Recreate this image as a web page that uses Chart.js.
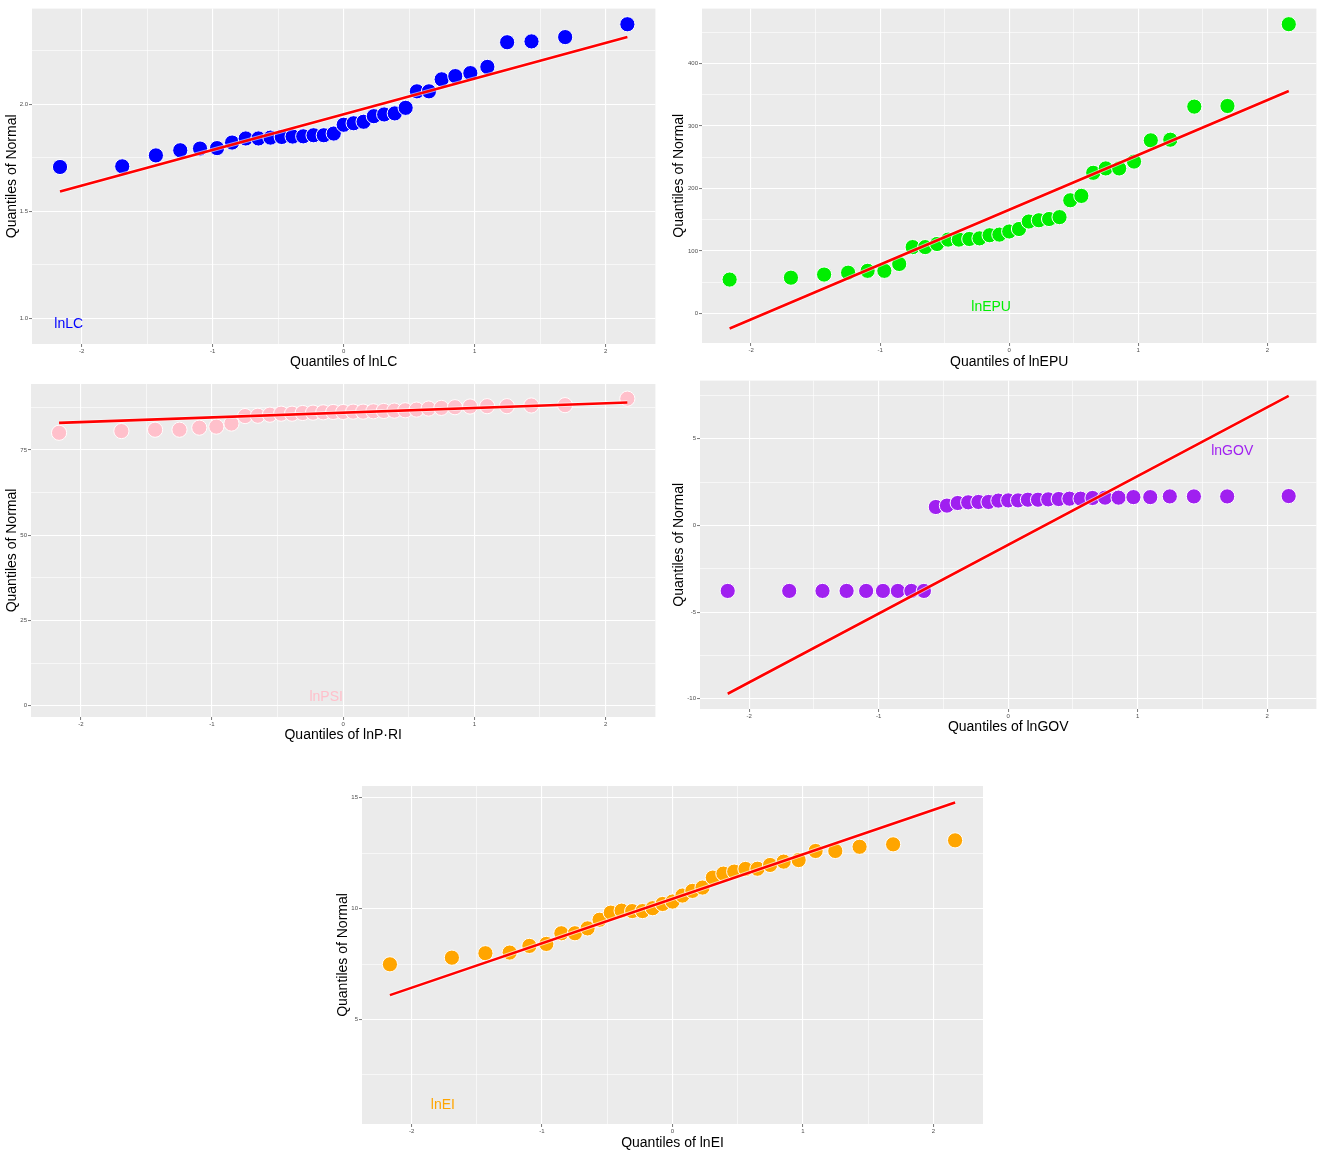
<!DOCTYPE html>
<html>
<head>
<meta charset="utf-8">
<title>Q-Q plots</title>
<script src="https://cdn.jsdelivr.net/npm/chart.js@4.4.1/dist/chart.umd.min.js"></script>
<style>
  html, body { margin: 0; padding: 0; background: #fff; }
  body { width: 1325px; height: 1153px; position: relative; overflow: hidden; }
  canvas { position: absolute; }
</style>
</head>
<body>
<canvas id="lc"></canvas>
<canvas id="epu"></canvas>
<canvas id="psi"></canvas>
<canvas id="gov"></canvas>
<canvas id="ei"></canvas>
<script>
// theoretical normal quantiles (x of every panel, 33 obs)
const theoreticalQuantiles = [-2.166, -1.691, -1.434, -1.248, -1.097, -0.967, -0.852, -0.748, -0.651, -0.559,
  -0.473, -0.390, -0.309, -0.230, -0.152, -0.076, 0, 0.076, 0.152, 0.230, 0.309, 0.390, 0.473, 0.559,
  0.651, 0.748, 0.852, 0.967, 1.097, 1.248, 1.434, 1.691, 2.166];

// sample quantiles
const lnLC = [1.707, 1.710, 1.761, 1.785, 1.793, 1.795, 1.821, 1.840, 1.840, 1.844, 1.847, 1.849, 1.850,
  1.855, 1.855, 1.863, 1.904, 1.911, 1.918, 1.944, 1.952, 1.957, 1.983, 2.060, 2.060, 2.116, 2.131,
  2.145, 2.174, 2.289, 2.293, 2.313, 2.373];
const lnEPU = [54, 57, 62, 65, 68, 68, 79, 106, 106, 111, 118, 118, 119, 120, 125, 126, 131, 135, 147,
  149, 151, 154, 181, 188, 225, 232, 232, 243, 277, 278, 331, 332, 463];
const lnPSI = [80.0, 80.5, 80.9, 80.9, 81.5, 81.8, 82.7, 84.9, 85.0, 85.3, 85.6, 85.6, 85.8, 85.9, 86.0,
  86.1, 86.1, 86.2, 86.2, 86.3, 86.4, 86.5, 86.6, 86.8, 87.1, 87.3, 87.5, 87.7, 87.8, 87.8, 88.0, 88.1, 90.0];
const lnGOV = [-3.78, -3.78, -3.78, -3.78, -3.78, -3.78, -3.78, -3.78, -3.78, 1.06, 1.14, 1.29, 1.33,
  1.35, 1.35, 1.43, 1.44, 1.44, 1.48, 1.48, 1.50, 1.52, 1.54, 1.54, 1.58, 1.60, 1.60, 1.63, 1.63,
  1.67, 1.67, 1.67, 1.69];
const lnEI = [7.49, 7.79, 7.99, 8.02, 8.32, 8.41, 8.89, 8.89, 9.11, 9.50, 9.82, 9.91, 9.89, 9.89, 10.02,
  10.21, 10.32, 10.59, 10.80, 10.95, 11.40, 11.58, 11.67, 11.79, 11.80, 11.97, 12.12, 12.19, 12.60,
  12.60, 12.79, 12.90, 13.08];

// reference line, value at first and last theoretical quantile
const lcLine = [1.593, 2.313];
const epuLine = [-24.3, 356];
const psiLine = [82.9, 88.9];
const govLine = [-9.71, 7.47];
const eiLine = [6.10, 14.79];

// tick labels
const xTicks = [-2, -1, 0, 1, 2];
const lcTicks = [1.0, 1.5, 2.0];
const epuTicks = [0, 100, 200, 300, 400];
const psiTicks = [0, 25, 50, 75];
const govTicks = [-10, -5, 0, 5];
const eiTicks = [5, 10, 15];

const FONT = '"Liberation Sans", Arial, sans-serif';
Chart.defaults.font.family = FONT;

const panels = [
  { id: 'lc', vals: lnLC, line: lcLine, ticks: lcTicks, dec: 1, color: '#0000ff',
    box: [0, 0, 664, 372], pad: { top: 6, right: 5 }, yW: 32, xH: 28, yPad: 3.6, xPad: 1.6,
    ymin: 0.881, ymax: 2.446, xTitle: 'Quantiles of lnLC', tag: ['lnLC', -2.10, 0.974] },
  { id: 'epu', vals: lnEPU, line: epuLine, ticks: epuTicks, dec: 0, color: '#00ee00',
    box: [664, 0, 661, 372], pad: { top: 5, right: 5 }, yW: 38, xH: 29, yPad: 6.6, xPad: 1.9,
    ymin: -47.6, ymax: 488, xTitle: 'Quantiles of lnEPU', tag: ['lnEPU', -0.14, 9.5] },
  { id: 'psi', vals: lnPSI, line: psiLine, ticks: psiTicks, dec: 0, color: '#ffc0cb',
    box: [0, 372, 664, 378], pad: { top: 12, right: 5 }, yW: 31, xH: 33, yPad: 3.3, xPad: 6.6,
    ymin: -3.3, ymax: 94.3, xTitle: 'Quantiles of lnP\u00b7RI', tag: ['lnPSI', -0.13, 2.5] },
  { id: 'gov', vals: lnGOV, line: govLine, ticks: govTicks, dec: 0, color: '#a020f0',
    box: [664, 372, 661, 378], pad: { top: 5, right: 5 }, yW: 36, xH: 41, yPad: 6.6, xPad: 14.6,
    ymin: -10.59, ymax: 8.35, xTitle: 'Quantiles of lnGOV', tag: ['lnGOV', 1.73, 4.26] },
  { id: 'ei', vals: lnEI, line: eiLine, ticks: eiTicks, dec: 0, color: '#ffa500',
    box: [330, 760, 680, 393], pad: { top: 26, right: 27 }, yW: 32, xH: 29, yPad: 4.6, xPad: 1.9,
    ymin: 0.29, ymax: 15.53, xTitle: 'Quantiles of lnEI', tag: ['lnEI', -1.76, 1.16] }
];

// major breaks plus ggplot-style minor breaks half way between
function gridTicks(major, min, max) {
  const step = major[1] - major[0];
  const all = [major[0] - step / 2];
  major.forEach(v => { all.push(v); all.push(v + step / 2); });
  return all.filter(v => v >= min && v <= max).map(v => ({ value: v, minor: !major.includes(v) }));
}

const panelBg = {
  id: 'panelBg',
  beforeDraw(chart) {
    const a = chart.chartArea, c = chart.ctx;
    c.save();
    c.fillStyle = '#ebebeb';
    c.fillRect(a.left, a.top, a.right - a.left, a.bottom - a.top);
    c.restore();
  }
};

const tagLabel = {
  id: 'tagLabel',
  afterDatasetsDraw(chart, args, opts) {
    const c = chart.ctx;
    c.save();
    c.font = '14px ' + FONT;
    c.fillStyle = opts.color;
    c.textAlign = 'center';
    c.textBaseline = 'middle';
    c.fillText(opts.text, chart.scales.x.getPixelForValue(opts.x), chart.scales.y.getPixelForValue(opts.y));
    c.restore();
  }
};

function axis(horizontal, p) {
  const major = horizontal ? xTicks : p.ticks;
  const min = horizontal ? -2.38 : p.ymin;
  const max = horizontal ? 2.38 : p.ymax;
  return {
    type: 'linear',
    min: min,
    max: max,
    afterBuildTicks: s => { s.ticks = gridTicks(major, min, max); },
    afterFit: s => {
      if (horizontal) { s.height = p.xH; s.paddingLeft = 0; s.paddingRight = 0; }
      else { s.width = p.yW; s.paddingTop = 0; s.paddingBottom = 0; }
    },
    grid: {
      color: '#ffffff',
      lineWidth: c => (c.tick && c.tick.minor ? 0.6 : 1.1),
      tickColor: c => (c.tick && c.tick.minor ? 'rgba(0,0,0,0)' : '#555555'),
      tickLength: 3,
      tickWidth: 0.8
    },
    border: { display: false },
    ticks: {
      autoSkip: false,
      maxRotation: 0,
      padding: 1,
      color: '#4d4d4d',
      font: { size: 6 },
      callback: (v, i, t) => (t[i].minor ? '' : (horizontal ? String(v) : v.toFixed(p.dec)))
    },
    title: {
      display: true,
      text: horizontal ? p.xTitle : 'Quantiles of Normal',
      color: '#000000',
      font: { size: 14 },
      padding: horizontal ? { top: 0, bottom: p.xPad } : { top: p.yPad, bottom: 0 }
    }
  };
}

panels.forEach(p => {
  const cv = document.getElementById(p.id);
  cv.width = p.box[2];
  cv.height = p.box[3];
  cv.style.left = p.box[0] + 'px';
  cv.style.top = p.box[1] + 'px';

  const n = theoreticalQuantiles.length;
  const ends = [{ x: theoreticalQuantiles[0], y: p.line[0] }, { x: theoreticalQuantiles[n - 1], y: p.line[1] }];
  new Chart(cv.getContext('2d'), {
    type: 'scatter',
    data: {
      datasets: [
        {
          label: 'qq line',
          data: ends,
          showLine: true,
          borderColor: '#ff0000',
          borderWidth: 2.6,
          pointRadius: 0,
          order: 0
        },
        {
          label: 'qq line halo',
          data: ends,
          showLine: true,
          borderColor: 'rgba(255,255,255,0.6)',
          borderWidth: 4.4,
          pointRadius: 0,
          order: 1
        },
        {
          label: p.id,
          data: theoreticalQuantiles.map((x, i) => ({ x: x, y: p.vals[i] })),
          backgroundColor: p.color,
          borderColor: '#ffffff',
          borderWidth: 1,
          pointRadius: 7.6,
          order: 2
        }
      ]
    },
    options: {
      responsive: false,
      maintainAspectRatio: false,
      animation: false,
      events: [],
      layout: { padding: { top: p.pad.top, right: p.pad.right, left: 0, bottom: 0 } },
      scales: { x: axis(true, p), y: axis(false, p) },
      plugins: {
        legend: { display: false },
        tooltip: { enabled: false },
        tagLabel: { text: p.tag[0], x: p.tag[1], y: p.tag[2], color: p.color }
      }
    },
    plugins: [panelBg, tagLabel]
  });
});
</script>
</body>
</html>
